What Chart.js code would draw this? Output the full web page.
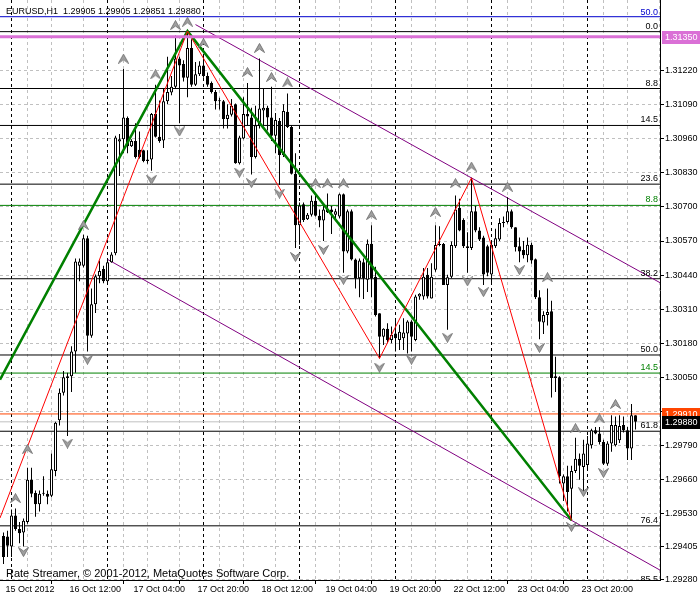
<!DOCTYPE html>
<html>
<head>
<meta charset="utf-8">
<script src="https://cdn.jsdelivr.net/npm/chart.js@4/dist/chart.umd.min.js"></script>
<style>
  html, body { margin: 0; padding: 0; background: #fff; }
</style>
</head>
<body>
<canvas id="chart" width="700" height="600"></canvas>
<script>
// EURUSD H1, one bar per hour, bar 0 = 15 Oct 2012 20:00
var opens = [1.29444,1.29442,1.29404,1.29522,1.29471,1.29458,1.29498,1.29659,1.29608,1.29565,
  1.29605,1.29605,1.29598,1.29692,1.29886,1.29991,1.30047,1.30054,1.30148,1.30476,
  1.30476,1.30581,1.30208,1.30329,1.30436,1.30463,1.30416,1.30489,1.30523,1.30950,
  1.30958,1.31039,1.30932,1.30952,1.30918,1.30916,1.30881,1.30881,1.31055,1.30968,
  1.30954,1.31103,1.31137,1.31159,1.31267,1.31246,1.31193,1.31307,1.31166,1.31206,
  1.31240,1.31200,1.31173,1.31139,1.31106,1.31103,1.31036,1.31052,1.31092,1.30867,
  1.30961,1.31055,1.31041,1.30891,1.31009,1.31068,1.31079,1.31041,1.30972,1.31028,
  1.30898,1.31063,1.31005,1.30827,1.30630,1.30710,1.30653,1.30670,1.30724,1.30666,
  1.30648,1.30693,1.30690,1.30670,1.30664,1.30748,1.30530,1.30684,1.30499,1.30428,
  1.30489,1.30422,1.30560,1.30434,1.30294,1.30205,1.30235,1.30192,1.30217,1.30192,
  1.30199,1.30217,1.30263,1.30192,1.30358,1.30358,1.30441,1.30351,1.30460,1.30555,
  1.30559,1.30402,1.30434,1.30550,1.30697,1.30650,1.30550,1.30543,1.30684,1.30610,
  1.30583,1.30550,1.30442,1.30550,1.30576,1.30639,1.30643,1.30684,1.30623,1.30550,
  1.30536,1.30516,1.30556,1.30500,1.30355,1.30259,1.30288,1.30302,1.30047,1.30050,
  1.29645,1.29672,1.29625,1.29692,1.29739,1.29708,1.29715,1.29791,1.29848,1.29835,
  1.29803,1.29720,1.29797,1.29791,1.29810,1.29868,1.29848,1.29778,1.29905];
var highs = [1.29458,1.29464,1.29545,1.29549,1.29498,1.29511,1.29705,1.29705,1.29618,1.29618,
  1.29672,1.29618,1.29759,1.29880,1.30007,1.30074,1.30067,1.30168,1.30503,1.30503,
  1.30594,1.30590,1.30389,1.30442,1.30496,1.30476,1.30499,1.30527,1.30972,1.30978,
  1.31226,1.31045,1.30958,1.31019,1.30988,1.30918,1.30916,1.31059,1.31166,1.31106,
  1.31153,1.31273,1.31200,1.31354,1.31273,1.31260,1.31371,1.31340,1.31253,1.31256,
  1.31280,1.31213,1.31179,1.31146,1.31117,1.31108,1.31092,1.31112,1.31095,1.30972,
  1.31119,1.31173,1.31079,1.31086,1.31267,1.31153,1.31086,1.31159,1.31059,1.31039,
  1.31092,1.31133,1.31012,1.30905,1.30717,1.30717,1.30677,1.30744,1.30744,1.30690,
  1.30704,1.30751,1.30704,1.30693,1.30751,1.30751,1.30690,1.30690,1.30503,1.30503,
  1.30503,1.30576,1.30630,1.30472,1.30294,1.30237,1.30256,1.30244,1.30268,1.30250,
  1.30275,1.30268,1.30268,1.30365,1.30371,1.30467,1.30467,1.30485,1.30630,1.30626,
  1.30562,1.30441,1.30568,1.30744,1.30731,1.30657,1.30603,1.30811,1.30704,1.30623,
  1.30590,1.30556,1.30563,1.30617,1.30657,1.30664,1.30737,1.30690,1.30623,1.30583,
  1.30570,1.30583,1.30563,1.30503,1.30382,1.30302,1.30389,1.30342,1.30128,1.30054,
  1.29679,1.29712,1.29712,1.29819,1.29759,1.29812,1.29826,1.29854,1.29860,1.29860,
  1.29812,1.29806,1.29905,1.29900,1.29905,1.29900,1.29860,1.29948,1.29905];
var lows = [1.29337,1.29364,1.29364,1.29464,1.29417,1.29404,1.29491,1.29592,1.29518,1.29538,
  1.29598,1.29565,1.29592,1.29672,1.29866,1.29980,1.29826,1.29994,1.30067,1.30416,
  1.30469,1.30148,1.30201,1.30295,1.30409,1.30409,1.30409,1.30487,1.30516,1.30818,
  1.30905,1.30905,1.30929,1.30885,1.30885,1.30871,1.30865,1.30838,1.30965,1.30945,
  1.30925,1.31092,1.31126,1.31153,1.31019,1.31179,1.31119,1.31159,1.31162,1.31200,
  1.31193,1.31159,1.31133,1.31072,1.31072,1.30999,1.30999,1.31045,1.30865,1.30862,
  1.30958,1.31012,1.30824,1.30885,1.30999,1.31012,1.30992,1.30952,1.30905,1.30784,
  1.30891,1.31001,1.30824,1.30543,1.30556,1.30643,1.30650,1.30664,1.30664,1.30623,
  1.30570,1.30677,1.30597,1.30657,1.30657,1.30449,1.30523,1.30496,1.30389,1.30355,
  1.30349,1.30375,1.30355,1.30282,1.30122,1.30173,1.30180,1.30180,1.30148,1.30154,
  1.30154,1.30141,1.30148,1.30187,1.30346,1.30346,1.30351,1.30351,1.30453,1.30550,
  1.30402,1.30231,1.30428,1.30543,1.30607,1.30543,1.30449,1.30536,1.30603,1.30570,
  1.30402,1.30436,1.30409,1.30543,1.30570,1.30623,1.30637,1.30617,1.30530,1.30489,
  1.30503,1.30489,1.30483,1.30349,1.30195,1.30215,1.30248,1.29973,1.29994,1.29645,
  1.29578,1.29538,1.29504,1.29685,1.29659,1.29606,1.29699,1.29778,1.29833,1.29793,
  1.29715,1.29712,1.29766,1.29786,1.29799,1.29839,1.29734,1.29734,1.29851];
var closes = [1.29364,1.29407,1.29522,1.29471,1.29455,1.29502,1.29659,1.29605,1.29565,1.29605,
  1.29608,1.29594,1.29699,1.29876,1.29991,1.30050,1.30054,1.30148,1.30492,1.30492,
  1.30581,1.30208,1.30329,1.30436,1.30456,1.30416,1.30489,1.30519,1.30965,1.30958,
  1.31041,1.30932,1.30952,1.30891,1.30891,1.30875,1.30875,1.31055,1.30968,1.30952,
  1.31103,1.31139,1.31159,1.31267,1.31240,1.31193,1.31307,1.31166,1.31206,1.31240,
  1.31200,1.31166,1.31139,1.31103,1.31103,1.31036,1.31052,1.31086,1.30867,1.30965,
  1.31055,1.31045,1.30891,1.31012,1.31076,1.31079,1.31041,1.30972,1.31032,1.30898,
  1.31066,1.31005,1.30827,1.30630,1.30706,1.30650,1.30670,1.30724,1.30666,1.30648,
  1.30690,1.30680,1.30680,1.30684,1.30748,1.30530,1.30684,1.30499,1.30428,1.30496,
  1.30428,1.30560,1.30429,1.30288,1.30205,1.30235,1.30192,1.30212,1.30199,1.30224,
  1.30221,1.30263,1.30205,1.30358,1.30369,1.30434,1.30358,1.30434,1.30555,1.30559,
  1.30402,1.30432,1.30555,1.30690,1.30610,1.30550,1.30543,1.30684,1.30610,1.30576,
  1.30442,1.30449,1.30556,1.30581,1.30639,1.30643,1.30684,1.30623,1.30546,1.30530,
  1.30516,1.30556,1.30496,1.30355,1.30262,1.30288,1.30299,1.30047,1.30054,1.29672,
  1.29672,1.29612,1.29692,1.29739,1.29712,1.29759,1.29797,1.29848,1.29835,1.29803,
  1.29720,1.29797,1.29868,1.29868,1.29864,1.29848,1.29778,1.29905,1.29880];

// fractal arrows (bar index / price)
var upArrowAt = [3, 6, 20, 30, 38, 43, 46, 50, 61, 64, 67, 71, 78, 81, 85, 92, 108, 113, 117, 126, 136, 143, 149, 153];
var upArrowPrice = [1.29589, 1.29776, 1.30631, 1.31266, 1.31206, 1.31394, 1.31407, 1.31326, 1.31215, 1.31307, 1.31196, 1.31175,
  1.30791, 1.30791, 1.30791, 1.30669, 1.30681, 1.30791, 1.30854, 1.30777, 1.30432, 1.29856, 1.29893, 1.29948];
var downArrowAt = [5, 16, 21, 37, 44, 59, 62, 69, 73, 80, 85, 94, 102, 111, 116, 120, 129, 134, 142, 145, 150];
var downArrowPrice = [1.29383, 1.29797, 1.30117, 1.30804, 1.30988, 1.30831, 1.30791, 1.30751, 1.30509, 1.30536, 1.30422,
  1.30087, 1.30117, 1.30201, 1.30416, 1.30375, 1.30459, 1.30162, 1.29479, 1.29612, 1.29685];

// zigzag / trend objects
var greenZigAt = [-0.875, 46, 142];
var greenZigPrice = [1.30041, 1.31371, 1.29504];
var redZigAt = [-0.875, 46, 94, 117, 142];
var redZigPrice = [1.29513, 1.31371, 1.30122, 1.30811, 1.29504];
var channelUpperAt = [48, 164.125];
var channelUpperPrice = [1.31396, 1.30411];
var channelLowerAt = [26, 164.125];
var channelLowerPrice = [1.30500, 1.29314];

// horizontal levels
var fiboLevels = [1.31369, 1.31152, 1.31011, 1.30787, 1.30426, 1.30135, 1.29844, 1.29483, 1.29259];
var fiboText = ['0.0', '8.8', '14.5', '23.6', '38.2', '50.0', '61.8', '76.4', '85.5'];
var greenLevels = [1.30706, 1.30066];
var greenText = ['8.8', '14.5'];
var blueLevel = 1.31426;
var blueText = '50.0';
var magentaLevel = 1.31350;
var orangeLevel = 1.29910;
var bidLevel = 1.29880;

// axes
var priceTicks = [1.31220, 1.31090, 1.30960, 1.30830, 1.30700, 1.30570, 1.30440, 1.30310, 1.30180,
  1.30050, 1.29920, 1.29790, 1.29660, 1.29530, 1.29405, 1.29280];
var hiddenPriceTick = 1.29920;
var gridBars = [0, 8, 16, 24, 32, 40, 48, 56, 64, 72, 80, 88, 96, 104, 112, 120, 128, 136, 144, 152, 160];
var daySeparators = [4, 28, 52, 76, 100, 124, 148];
var timeTickAt = [0, 16, 32, 48, 64, 80, 96, 112, 128, 144];
var timeTickText = ['15 Oct 2012', '16 Oct 12:00', '17 Oct 04:00', '17 Oct 20:00', '18 Oct 12:00',
  '19 Oct 04:00', '19 Oct 20:00', '22 Oct 12:00', '23 Oct 04:00', '23 Oct 20:00'];

var xMin = -0.875, xMax = 164.125;
var yMin = 1.292763, yMax = 1.314898;

var last = opens.length - 1;
var header = 'EURUSD,H1  ' + [opens[last], highs[last], lows[last], closes[last]].map(function(v) {
  return v.toFixed(5);
}).join(' ');
var footer = 'Rate Streamer, \u00a9 2001-2012, MetaQuotes Software Corp.';

var FONT = '"Liberation Sans", Arial, sans-serif';
Chart.defaults.font.family = FONT;
Chart.defaults.font.size = 9;
Chart.defaults.color = '#000';

function arrowImage(down) {
  var c = document.createElement('canvas');
  c.width = 11; c.height = 10;
  var g = c.getContext('2d');
  if (down) { g.translate(0, 10); g.scale(1, -1); }
  g.beginPath();
  g.moveTo(5.5, 0.5);
  g.lineTo(10.5, 9.5);
  g.lineTo(5.5, 6);
  g.lineTo(0.5, 9.5);
  g.closePath();
  g.fillStyle = '#a0a0a0';
  g.fill();
  g.strokeStyle = '#787878';
  g.lineWidth = 1;
  g.stroke();
  return c;
}

function pts(xs, ys) {
  return xs.map(function(x, k) { return {x: x, y: ys[k]}; });
}

function hLine(price, color, width, order) {
  return {
    type: 'line',
    data: [{x: xMin, y: price}, {x: xMax, y: price}],
    borderColor: color,
    borderWidth: width,
    pointRadius: 0,
    order: order
  };
}

var wickData = opens.map(function(o, i) { return {x: i, y: [lows[i], highs[i]]}; });
var bodyData = opens.map(function(o, i) { return {x: i, y: [o, closes[i]]}; });

var datasets = [];
fiboLevels.forEach(function(p) { datasets.push(hLine(p, '#000', 1, 6)); });
greenLevels.forEach(function(p) { datasets.push(hLine(p, '#008000', 1, 6)); });
datasets.push(hLine(blueLevel, '#0000cc', 1, 6));
datasets.push(hLine(bidLevel, '#c0c0c0', 1, 6));
datasets.push(hLine(orangeLevel, '#ff4500', 1, 6));
datasets.push(hLine(magentaLevel, '#da70d6', 3, 1));

datasets.push({
  type: 'line', data: pts(channelUpperAt, channelUpperPrice),
  borderColor: '#800080', borderWidth: 1, pointRadius: 0, order: 5
});
datasets.push({
  type: 'line', data: pts(channelLowerAt, channelLowerPrice),
  borderColor: '#800080', borderWidth: 1, pointRadius: 0, order: 5
});

// candles: wick and body as two overlapping floating bars
datasets.push({
  type: 'bar', data: wickData, grouped: false,
  barPercentage: 1, categoryPercentage: 1, maxBarThickness: 1,
  backgroundColor: '#000', borderWidth: 0, inflateAmount: 0, order: 4
});
datasets.push({
  type: 'bar', data: bodyData, grouped: false,
  barPercentage: 1, categoryPercentage: 1, maxBarThickness: 3,
  backgroundColor: function(c) {
    var i = c.dataIndex;
    return closes[i] > opens[i] ? '#fff' : '#000';
  },
  borderColor: '#000', borderWidth: 1, borderSkipped: false,
  minBarLength: 1, inflateAmount: 0, order: 3
});

datasets.push({
  type: 'line', data: pts(redZigAt, redZigPrice),
  borderColor: '#ff0000', borderWidth: 1, pointRadius: 0, order: 2
});
datasets.push({
  type: 'line', data: pts(greenZigAt, greenZigPrice),
  borderColor: '#008000', borderWidth: 2.5, pointRadius: 0, order: 2
});

datasets.push({
  type: 'line', data: pts(upArrowAt, upArrowPrice), showLine: false,
  pointStyle: arrowImage(false), pointRadius: 5, order: 0
});
datasets.push({
  type: 'line', data: pts(downArrowAt, downArrowPrice), showLine: false,
  pointStyle: arrowImage(true), pointRadius: 5, order: 0
});

var overlays = {
  id: 'overlays',
  afterDatasetsDraw: function(chart) {
    var ctx = chart.ctx, a = chart.chartArea, ys = chart.scales.y;
    ctx.save();
    ctx.beginPath();
    ctx.rect(a.left, a.top, a.right - a.left, a.bottom - a.top);
    ctx.clip();
    ctx.font = '9px ' + FONT;
    ctx.textAlign = 'right';
    ctx.textBaseline = 'alphabetic';
    ctx.fillStyle = '#000';
    fiboLevels.forEach(function(p, k) {
      ctx.fillText(fiboText[k], a.right - 2, ys.getPixelForValue(p) - 3);
    });
    ctx.fillStyle = '#008000';
    greenLevels.forEach(function(p, k) {
      ctx.fillText(greenText[k], a.right - 2, ys.getPixelForValue(p) - 3);
    });
    ctx.fillStyle = '#0000cc';
    ctx.fillText(blueText, a.right - 2, ys.getPixelForValue(blueLevel) - 1.5);

    ctx.textAlign = 'left';
    ctx.fillStyle = '#000';
    ctx.fillText(header, 6, 14);
    ctx.font = '11px ' + FONT;
    ctx.fillText(footer, 6, 577);
    ctx.restore();
  },
  afterDraw: function(chart) {
    // price tags on the right axis
    var ctx = chart.ctx, a = chart.chartArea, ys = chart.scales.y;
    var tags = [[magentaLevel, '#da70d6'], [orangeLevel, '#ff4500'], [bidLevel, '#000']];
    ctx.save();
    ctx.font = '9px ' + FONT;
    ctx.textBaseline = 'middle';
    ctx.textAlign = 'left';
    tags.forEach(function(t) {
      var py = Math.round(ys.getPixelForValue(t[0]));
      ctx.fillStyle = t[1];
      ctx.fillRect(a.right + 2, py - 6, chart.width - a.right - 2, 13);
      ctx.fillStyle = '#fff';
      ctx.fillText(t[0].toFixed(5), a.right + 5, py + 0.5);
    });
    ctx.restore();
  }
};

new Chart(document.getElementById('chart').getContext('2d'), {
  type: 'bar',
  data: { datasets: datasets },
  plugins: [overlays],
  options: {
    responsive: false,
    animation: false,
    events: [],
    layout: { padding: 0, autoPadding: false },
    plugins: { legend: { display: false }, tooltip: { enabled: false } },
    scales: {
      x: {
        type: 'linear', min: xMin, max: xMax, offset: false,
        afterBuildTicks: function(s) {
          s.ticks = gridBars.concat(daySeparators).sort(function(a, b) { return a - b; })
            .map(function(v) { return {value: v}; });
        },
        afterFit: function(s) { s.height = 20; s.paddingLeft = 0; s.paddingRight = 0; },
        grid: {
          color: function(c) {
            return c.tick && daySeparators.indexOf(c.tick.value) >= 0 ? '#000' : '#c0c0c0';
          },
          tickColor: function(c) {
            return c.tick && timeTickAt.indexOf(c.tick.value) >= 0 ? '#000' : 'rgba(0,0,0,0)';
          },
          tickLength: 4,
          borderDash: [3, 3]
        },
        border: { display: true, color: '#000', width: 1, dash: [3, 3] },
        ticks: {
          autoSkip: false, maxRotation: 0, minRotation: 0,
          align: 'start', padding: 0, labelOffset: 2,
          callback: function(v) {
            var k = timeTickAt.indexOf(v);
            return k < 0 ? '' : timeTickText[k];
          }
        }
      },
      y: {
        type: 'linear', position: 'right', min: yMin, max: yMax,
        afterBuildTicks: function(s) {
          s.ticks = priceTicks.map(function(v) { return {value: v}; });
        },
        afterFit: function(s) { s.width = 40; s.paddingTop = 0; s.paddingBottom = 0; },
        grid: { color: '#c0c0c0', tickColor: '#000', tickLength: 4, borderDash: [3, 3] },
        border: { display: true, color: '#000', width: 1, dash: [3, 3] },
        ticks: {
          autoSkip: false, padding: 1,
          callback: function(v) { return v === hiddenPriceTick ? '' : v.toFixed(5); }
        }
      }
    }
  }
});
</script>
</body>
</html>
